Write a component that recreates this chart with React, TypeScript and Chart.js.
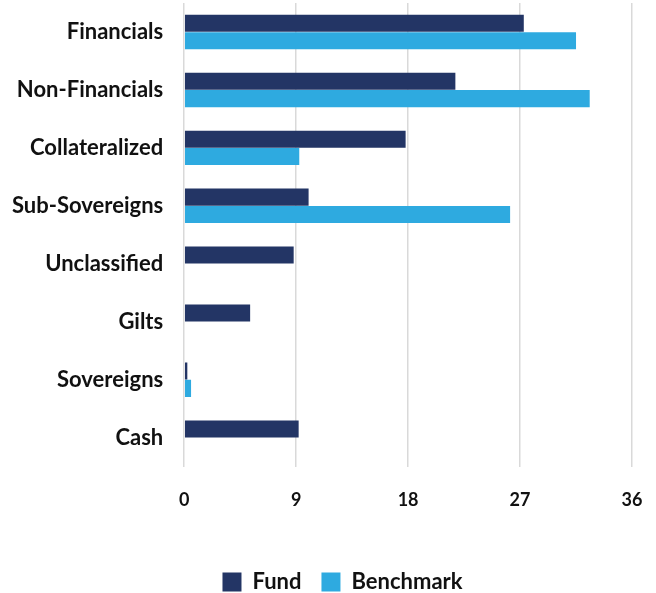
import React, { useEffect, useRef } from "react";
import { Chart, registerables } from "chart.js";

Chart.register(...registerables);

const categories = [
  "Financials",
  "Non-Financials",
  "Collateralized",
  "Sub-Sovereigns",
  "Unclassified",
  "Gilts",
  "Sovereigns",
  "Cash",
];
const fundValues = [27.3, 21.8, 17.8, 10.0, 8.8, 5.3, 0.25, 9.2];
const benchmarkValues = [31.5, 32.6, 9.25, 26.2, 0, 0, 0.55, 0];
const xTicks = [0, 9, 18, 27, 36];

const FONT = "Lato, sans-serif";

export default function App() {
  const ref = useRef<HTMLCanvasElement | null>(null);
  useEffect(() => {
    if (!ref.current) return;
    const chart = new Chart(ref.current, {
      type: "bar",
      data: {
        labels: categories,
        datasets: [
          {
            label: "Fund",
            data: fundValues,
            backgroundColor: "#233565",
            categoryPercentage: 0.6,
            barPercentage: 0.98,
          },
          {
            label: "Benchmark",
            data: benchmarkValues,
            backgroundColor: "#2eaae0",
            categoryPercentage: 0.6,
            barPercentage: 0.98,
          },
        ],
      },
      options: {
        indexAxis: "y",
        animation: false,
        responsive: false,
        maintainAspectRatio: false,
        layout: { padding: { top: 0, right: -38, left: -9, bottom: -10 } },
        scales: {
          x: {
            min: 0,
            max: 36,
            afterBuildTicks: (scale: any) => {
              scale.ticks = xTicks.map((v) => ({ value: v }));
            },
            afterFit: (scale: any) => {
              scale.paddingRight = 24;
              scale.paddingLeft = 0;
            },
            grid: { color: "#d9d9d9", lineWidth: 1.5, drawTicks: false },
            border: { display: false },
            ticks: {
              padding: 23,
              color: "#111",
              font: { family: FONT, size: 18, weight: "bold" },
            },
          },
          y: {
            afterFit: (scale: any) => {
              scale.paddingTop = 3;
              scale.paddingBottom = 0;
            },
            grid: { display: false, drawTicks: false },
            border: { display: false },
            ticks: {
              padding: 21,
              color: "#111",
              font: { family: FONT, size: 22, weight: "bold" },
            },
          },
        },
        plugins: {
          legend: {
            position: "bottom",
            title: { display: true, text: " ", padding: 3, font: { size: 9 } },
            labels: {
              boxWidth: 19,
              boxHeight: 19,
              padding: 20,
              color: "#111",
              font: { family: FONT, size: 22, weight: "bold" },
            },
          },
          tooltip: { enabled: false },
        },
      },
    });
    return () => chart.destroy();
  }, []);
  return (
    <div style={{ position: "fixed", left: 0, top: 0, width: 656, height: 593, background: "#fff" }}>
      <canvas ref={ref} width={656} height={593} />
    </div>
  );
}
